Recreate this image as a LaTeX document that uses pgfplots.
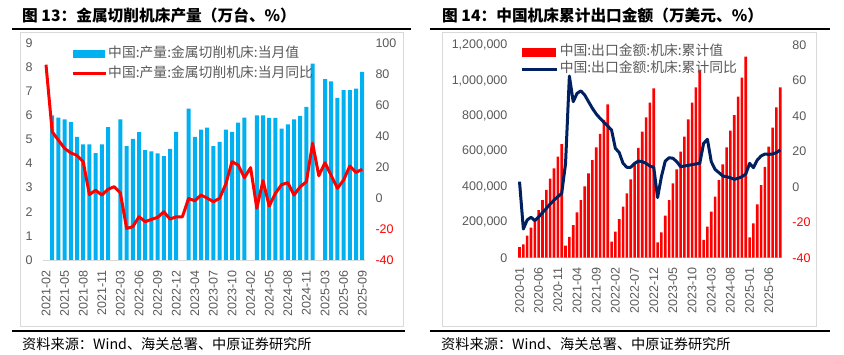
\documentclass[border=0pt]{standalone}
\usepackage{fontspec}
\setmainfont{Liberation Sans}
\newfontfamily\cjk{Noto Sans CJK SC}
\usepackage{pgfplots}
\pgfplotsset{compat=1.18}
\definecolor{barblue}{HTML}{00B0F0}
\definecolor{navy}{HTML}{002060}
\definecolor{tickgray}{HTML}{595959}
\definecolor{boxgray}{HTML}{D9D9D9}
\pgfplotsset{
  base/.style={scale only axis, /pgf/number format/assume math mode=true,
    major tick length=0pt, tick style={draw=none}, scaled y ticks=false,
    ticklabel style={font=\fontsize{12.5}{14}\selectfont, text=tickgray, inner sep=0pt},
    xticklabel style={rotate=90, anchor=east},
    xticklabel shift=10pt, yticklabel shift=10pt},
}
\begin{document}
\begin{tikzpicture}
\path[use as bounding box] (0pt,0pt) rectangle (844pt,-355pt);
% ---------- frames and titles ----------
\node[anchor=west, inner sep=0pt] at (22pt,-15pt) {\cjk\bfseries\fontsize{15.7}{18}\selectfont 图 13：金属切削机床产量（万台、\%）};
\node[anchor=west, inner sep=0pt] at (442pt,-15pt) {\cjk\bfseries\fontsize{15.7}{18}\selectfont 图 14：中国机床累计出口金额（万美元、\%）};
\draw[line width=1.8pt] (12pt,-28.7pt) -- (411pt,-28.7pt);
\draw[line width=1.8pt] (430pt,-28.7pt) -- (830pt,-28.7pt);
\draw[boxgray, line width=0.8pt] (20.5pt,-32.5pt) rectangle (403pt,-326.7pt);
\draw[boxgray, line width=0.8pt] (442.7pt,-32.5pt) rectangle (816pt,-326.2pt);
\draw[line width=1.8pt] (12pt,-331pt) -- (405pt,-331pt);
\draw[line width=1.8pt] (430pt,-331pt) -- (830pt,-331pt);
\node[anchor=west, inner sep=0pt] at (22pt,-344pt) {\cjk\fontsize{14.2}{16}\selectfont 资料来源：Wind、海关总署、中原证券研究所};
\node[anchor=west, inner sep=0pt] at (441pt,-344pt) {\cjk\fontsize{14.2}{16}\selectfont 资料来源：Wind、海关总署、中原证券研究所};

% ---------- left chart: bars ----------
\begin{axis}[base, at={(42.9pt,-260pt)}, anchor=south west,
  width=322.4pt, height=217pt,
  xmin=-0.5, xmax=51.5, ymin=0, ymax=9, ytick={0,1,...,9},
  axis x line*=bottom, axis y line*=left,
  x axis line style={boxgray, line width=0.8pt, -}, y axis line style={draw=none},
  xtick={0,3,...,51},
  xticklabels={2021-02,2021-05,2021-08,2021-11,2022-03,2022-06,2022-09,2022-12,2023-04,2023-07,2023-10,2024-02,2024-05,2024-08,2024-11,2025-03,2025-06,2025-09}]
\addplot[ybar, bar width=4pt, fill=barblue, draw=none] coordinates {
(1,6.00) (2,5.91) (3,5.83) (4,5.72) (5,5.11) (6,4.80) (7,4.80) (8,4.43) (9,4.80) (10,5.51)
(12,5.83) (13,4.72) (14,5.02) (15,5.30) (16,4.56) (17,4.51) (18,4.42) (19,4.31) (20,4.61) (21,5.31)
(23,6.28) (24,5.11) (25,5.41) (26,5.49) (27,4.72) (28,4.90) (29,5.41) (30,5.31) (31,5.70) (32,5.91)
(34,6.00) (35,6.00) (36,5.89) (37,5.89) (38,5.45) (39,5.63) (40,5.83) (41,5.98) (42,6.35) (43,8.14)
(45,7.50) (46,7.41) (47,6.72) (48,7.05) (49,7.05) (50,7.11) (51,7.80)};
\end{axis}
% ---------- left chart: line ----------
\begin{axis}[base, at={(42.9pt,-260pt)}, anchor=south west,
  width=322.4pt, height=217pt,
  xmin=-0.5, xmax=51.5, ymin=-40, ymax=100,
  axis x line=none, axis y line*=right, y axis line style={draw=none},
  xtick=\empty, ytick={-40,-20,0,20,40,60,80,100},
  yticklabels={\textcolor{red}{-40},\textcolor{red}{-20},0,20,40,60,80,100},
  yticklabel style={anchor=west},
  legend cell align=left,
  legend style={draw=none, fill=none, at={(0.078,0.995)}, anchor=north west,
    font=\cjk\fontsize{13.8}{15}\selectfont, text=tickgray, row sep=5pt,
    nodes={inner sep=1pt, text height=10pt, text depth=3pt}}]
\addlegendimage{legend image code/.code={\fill[barblue] (0pt,-3.5pt) rectangle (31pt,3.5pt);}}
\addlegendentry{中国:产量:金属切削机床:当月值}
\addplot[red, line width=3pt, line join=round, mark=none,
  legend image code/.code={\draw[red, line width=3pt] (0pt,0pt) -- (33pt,0pt);}] coordinates {
(0,86) (1,42.7) (2,37.3) (3,32) (4,29.1) (5,27.5) (6,23.4) (7,2.2) (8,5.0) (9,1.9) (10,5.6)
(11,7.3) (12,3.2) (13,-19.6) (14,-18.5) (15,-12.1) (16,-15.3) (17,-13.8) (18,-12.5) (19,-8.9) (20,-13.6) (21,-12.1)
(22,-12.1) (23,-0.3) (24,-1.8) (25,1.9) (26,-0.1) (27,-2.4) (28,-0.2) (29,9) (30,23.4) (31,21.3) (32,13.1)
(33,19.6) (34,-6.6) (35,11.2) (36,-5.2) (37,3.0) (38,8.6) (39,9.9) (40,1.9) (41,7.3) (42,10.5) (43,35.3)
(44,14.4) (45,22.8) (46,14.5) (47,6.3) (48,11.6) (49,20.6) (50,16.5) (51,18.5)};
\addlegendentry{中国:产量:金属切削机床:当月同比}
\end{axis}

% ---------- right chart: bars ----------
\begin{axis}[base, at={(517.6pt,-257.7pt)}, anchor=south west,
  width=264.6pt, height=212.7pt,
  xmin=-0.5, xmax=68.5, ymin=0, ymax=1200000,
  ytick={0,200000,400000,600000,800000,1000000,1200000},
  yticklabels={0,{200,000},{400,000},{600,000},{800,000},{1,000,000},{1,200,000}},
  axis x line*=bottom, axis y line*=left,
  x axis line style={boxgray, line width=0.8pt, -}, y axis line style={draw=none},
  xtick={0,5,...,65},
  xticklabels={2020-01,2020-06,2020-11,2021-04,2021-09,2022-02,2022-07,2022-12,2023-05,2023-10,2024-03,2024-08,2025-01,2025-06}]
\addplot[ybar, bar width=2.6pt, fill=red, draw=none] coordinates {
(0,60000) (1,75000) (2,124000) (3,169000) (4,210000) (5,269000) (6,325000) (7,382000) (8,446000) (9,504000) (10,570000) (11,641000)
(12,68000) (13,118000) (14,184000) (15,256000) (16,325000) (17,402000) (18,476000) (19,551000) (20,623000) (21,698000) (22,777000) (23,865000)
(24,90000) (25,147000) (26,218000) (27,288000) (28,363000) (29,442000) (30,535000) (31,620000) (32,711000) (33,792000) (34,875000) (35,955000)
(36,87000) (37,143000) (38,237000) (39,325000) (40,419000) (41,498000) (42,598000) (43,683000) (44,781000) (45,875000) (46,961000) (47,1059000)
(48,100000) (49,175000) (50,260000) (51,344000) (52,438000) (53,527000) (54,623000) (55,717000) (56,805000) (57,909000) (58,1016000) (59,1134000)
(60,115000) (61,194000) (62,301000) (63,410000) (64,513000) (65,626000) (66,734000) (67,848000) (68,961000)};
\end{axis}
% ---------- right chart: line ----------
\begin{axis}[base, at={(517.6pt,-257.7pt)}, anchor=south west,
  width=264.6pt, height=212.7pt,
  xmin=-0.5, xmax=68.5, ymin=-40, ymax=80,
  axis x line=none, axis y line*=right, y axis line style={draw=none},
  xtick=\empty, ytick={-40,-20,0,20,40,60,80},
  yticklabels={\textcolor{red}{-40},\textcolor{red}{-20},0,20,40,60,80},
  yticklabel style={anchor=west},
  legend cell align=left,
  legend style={draw=none, fill=none, at={(0.0,1.012)}, anchor=north west,
    font=\cjk\fontsize{13.8}{15}\selectfont, text=tickgray, row sep=2pt,
    nodes={inner sep=1pt, text height=10pt, text depth=3pt}}]
\addlegendimage{legend image code/.code={\fill[red] (0pt,-4pt) rectangle (33pt,4pt);}}
\addlegendentry{中国:出口金额:机床:累计值}
\addplot[navy, line width=3pt, line join=round, mark=none,
  legend image code/.code={\draw[navy, line width=3pt] (0pt,0pt) -- (35pt,0pt);}] coordinates {
(0,2.9) (1,-23.8) (2,-18.7) (3,-17.2) (4,-19.1) (5,-16.9) (6,-14.6) (7,-12.2) (8,-9.7) (9,-7.5) (10,-5.6) (11,-3.7)
(12,13) (13,62.5) (14,48.0) (15,52.7) (16,54.1) (17,51.8) (18,48.0) (19,44.3) (20,41.1) (21,38.6) (22,36.4) (23,34.3)
(24,32.0) (25,21.7) (26,19.3) (27,13.2) (28,11.0) (29,11.0) (30,13.2) (31,14.5) (32,14.2) (33,13.2) (34,11.7) (35,11.0)
(36,-6.1) (37,5.7) (38,14.5) (39,16.4) (40,16.1) (41,14.2) (42,11.4) (43,11.7) (44,12.1) (45,12.5) (46,12.9) (47,13.2)
(48,24.5) (49,26.8) (50,14.2) (51,9.8) (52,8.0) (53,6.1) (54,5.7) (55,5.1) (56,4.2) (57,4.8) (58,5.7) (59,7.2)
(60,13.2) (61,10.8) (62,15.1) (63,17.4) (64,18.5) (65,18.3) (66,18.5) (67,19.3) (68,20.8)};
\addlegendentry{中国:出口金额:机床:累计同比}
\end{axis}
\end{tikzpicture}
\end{document}
